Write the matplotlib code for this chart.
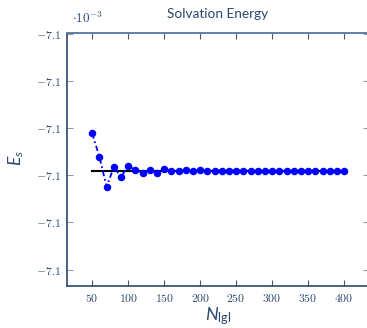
import matplotlib
matplotlib.use("Agg")
import matplotlib.pyplot as plt
from matplotlib.ticker import FixedLocator, FuncFormatter

# Data (E_s in units of 1e-3)
n_lgl = [50, 60, 70, 80, 90, 100, 110, 120, 130, 140, 150, 160, 170, 180,
         190, 200, 210, 220, 230, 240, 250, 260, 270, 280, 290, 300, 310,
         320, 330, 340, 350, 360, 370, 380, 390, 400]
e_s = [-7.100421, -7.100520, -7.100648, -7.100565, -7.100606, -7.100560,
       -7.100576, -7.100591, -7.100576, -7.100589, -7.100574, -7.100580,
       -7.100583, -7.100577, -7.100581, -7.100578, -7.100580, -7.100579,
       -7.100580, -7.100579, -7.100580, -7.100579, -7.100580, -7.100580,
       -7.100580, -7.100580, -7.100580, -7.100580, -7.100580, -7.100580,
       -7.100580, -7.100580, -7.100580, -7.100580, -7.100580, -7.100580]
ref_x = [50, 400]
ref_value = -7.100580
y_ticks = [-7.1010, -7.1008, -7.1006, -7.1004, -7.1002, -7.1000]
x_ticks = [50, 100, 150, 200, 250, 300, 350, 400]

plt.rcParams['mathtext.fontset'] = 'custom'
plt.rcParams['mathtext.rm'] = 'Lato'
plt.rcParams['mathtext.it'] = 'Lato:italic'

navy = '#2a4870'
W, H = 367, 328
fig = plt.figure(figsize=(W / 100, H / 100), dpi=100)
left, right, top, bottom = 67, 369.3, 33, 285.5
ax = fig.add_axes([left / W, 1 - bottom / H, (right - left) / W, (bottom - top) / H])

ax.plot(ref_x, [ref_value, ref_value], color='black', lw=1.5, zorder=2)
ax.plot(n_lgl, e_s, color='#0000ff', lw=1.3, linestyle=(0, (3, 1.6, 1, 1.6)),
        marker='o', markersize=4.4, zorder=3)

ax.set_xlim(15, 435)
ax.set_ylim(-7.101068, -7.099994)
ax.xaxis.set_major_locator(FixedLocator(x_ticks))
ax.yaxis.set_major_locator(FixedLocator(y_ticks))
ax.xaxis.set_major_formatter(FuncFormatter(lambda v, p: r'$%d$' % v))
ax.yaxis.set_major_formatter(FuncFormatter(lambda v, p: r'$%.1f$' % v))
ax.tick_params(axis='x', direction='in', top=True, length=4, width=0.8,
               color='#555555', labelsize=8.5, labelcolor=navy, pad=5)
ax.tick_params(axis='y', direction='in', right=True, length=4, width=0.8,
               color='#999999', labelsize=8.5, labelcolor=navy, pad=4)
for lab in ax.get_xticklabels() + ax.get_yticklabels():
    lab.set_math_fontfamily('cm')

for s in ['left', 'bottom']:
    ax.spines[s].set_color(navy)
    ax.spines[s].set_linewidth(1.2)
ax.spines['top'].set_color('#5f7fa6')
ax.spines['top'].set_linewidth(1.4)
ax.spines['right'].set_color('#5f7fa6')

fig.text(218 / W, 1 - 14 / H, 'Solvation Energy', family='Lato', fontsize=9.8,
         color=navy, ha='center', va='center')
fig.text(72 / W, 1 - 23 / H, r'$\cdot 10^{-3}$', fontsize=9.5, color=navy,
         ha='left', va='baseline', math_fontfamily='cm')
fig.text(218 / W, 1 - 316 / H, r'$N_{\mathrm{lgl}}$', fontsize=13, color=navy,
         ha='center', va='center')
fig.text(16 / W, 1 - 158 / H, r'$E_s$', fontsize=12.5, color=navy,
         ha='center', va='center', rotation=90)

fig.savefig('out.png', dpi=100)
